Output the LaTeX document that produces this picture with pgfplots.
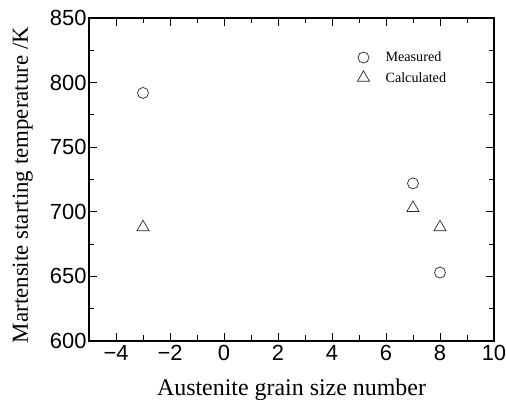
\documentclass[border=0pt]{standalone}
\usepackage{fontspec}
\setmainfont{Liberation Serif}
\setsansfont{Liberation Sans}
\usepackage{pgfplots}
\pgfplotsset{compat=1.18}
\begin{document}
\begin{tikzpicture}
\begin{axis}[
  scale only axis,
  width=405bp, height=323bp,
  xmin=-5, xmax=10, ymin=600, ymax=850,
  xtick={-4,-2,0,2,4,6,8,10},
  xticklabels={−4,−2,0,2,4,6,8,10},
  ytick={600,650,700,750,800,850},
  minor x tick num=1,
  minor y tick num=1,
  tick align=inside,
  major tick length=8bp,
  minor tick length=5.5bp,
  axis line style={line width=1.3pt},
  every tick/.style={line width=0.8pt, black},
  /pgf/number format/assume math mode=true,
  ticklabel style={font=\sffamily\fontsize{22}{22}\selectfont},
  yticklabel style={xshift=1bp},
  xticklabel style={yshift=-1bp},
  xlabel={Austenite grain size number},
  ylabel={Martensite starting temperature /K},
  xlabel style={font=\fontsize{24}{26}\selectfont, at={(axis description cs:0.5,-0.170)}, anchor=base},
  ylabel style={font=\fontsize{23}{25}\selectfont, at={(axis description cs:-0.151,0.483)}, anchor=base},
  legend style={draw=none, fill=none, at={(axis description cs:0.655,0.908)}, anchor=north west,
    font=\fontsize{14.2}{16}\selectfont, row sep=5bp},
  legend cell align=left,
]
\addplot[only marks, mark=o, mark size=5.5bp, black!85, mark options={line width=0.7pt}]
  coordinates {(-3,792) (7,722) (8,653)};
\addlegendentry{\hspace{14bp}Measured}
\addplot[only marks, mark=triangle, mark size=7bp, black!85, mark options={line width=0.7pt}]
  coordinates {(-3,688) (7,703) (8,688)};
\addlegendentry{\hspace{14bp}Calculated}
\end{axis}
\pgfresetboundingbox
\path (current axis.south west) ++(-89bp,-59bp) rectangle ++(506bp,400bp);
\end{tikzpicture}
\end{document}
